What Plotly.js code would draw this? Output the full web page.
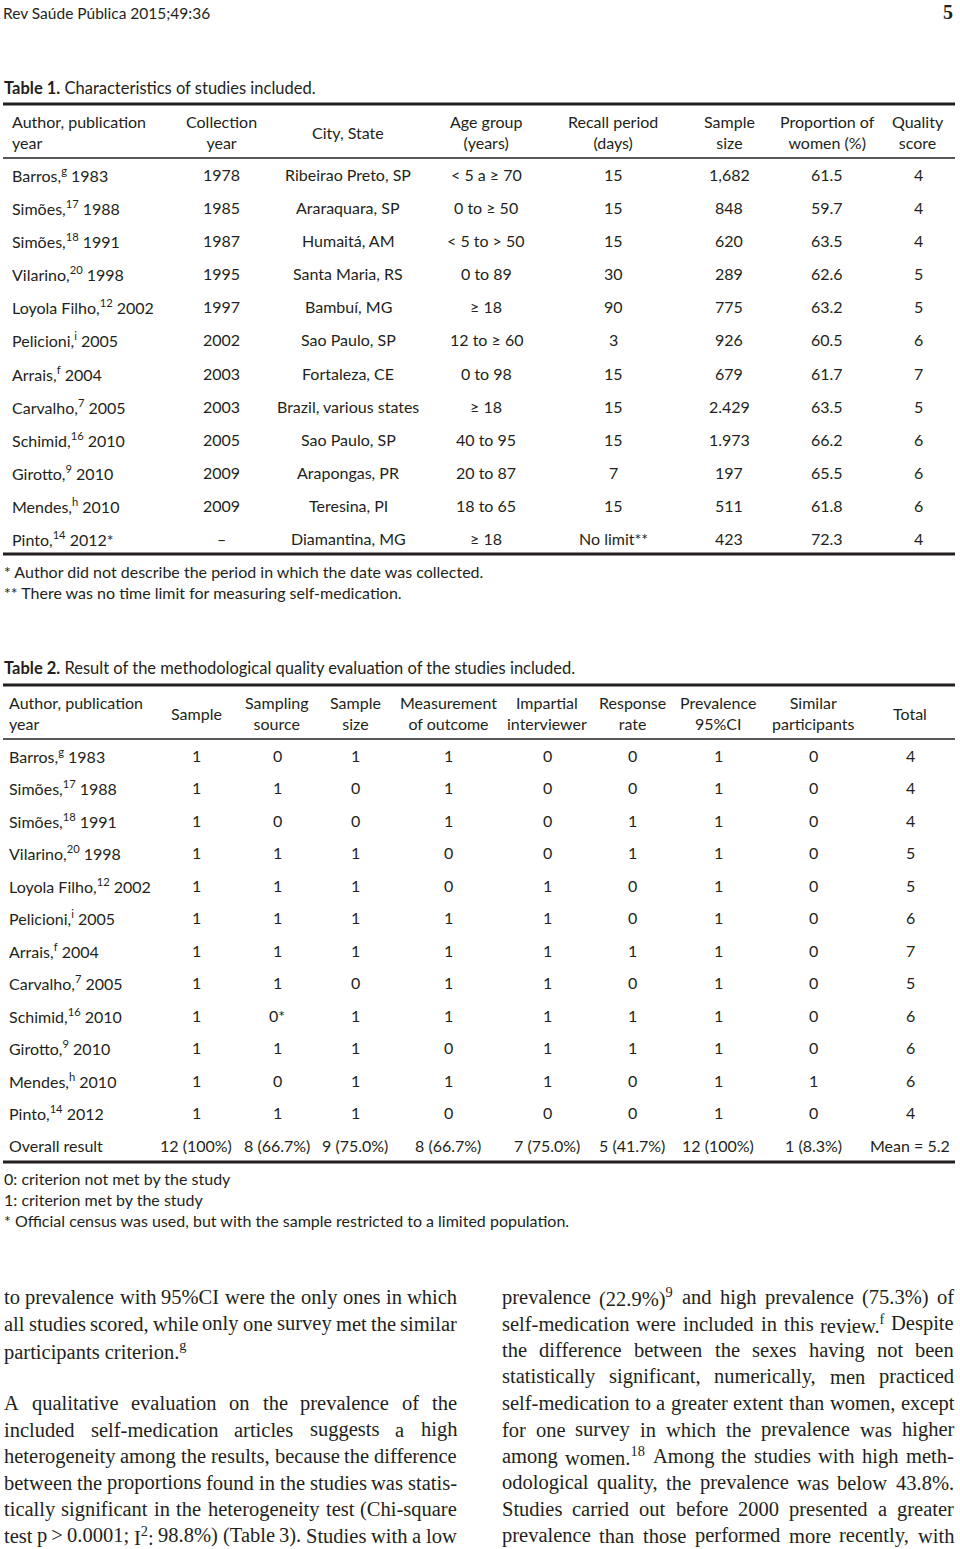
<!DOCTYPE html>
<html><head><meta charset="utf-8">
<script src="https://cdn.plot.ly/plotly-3.0.1.min.js"></script>
<style>html,body{margin:0;padding:0;background:#fff}</style>
</head><body><div id="chart" style="width:960px;height:1549px"></div>
<script>
// ---------------- DATA ----------------
const pageHeader = "Rev Saúde Pública 2015;49:36";
const pageNumber = "5";

const t1Title = "<b>Table 1.</b> Characteristics of studies included.";
const t1Headers = ["Author, publication<br>year", "Collection<br>year", "City, State", "Age group<br>(years)",
  "Recall period<br>(days)", "Sample<br>size", "Proportion of<br>women (%)", "Quality<br>score"];
const t1Author = ["Barros,<sup>g</sup> 1983", "Simões,<sup>17</sup> 1988", "Simões,<sup>18</sup> 1991",
  "Vilarino,<sup>20</sup> 1998", "Loyola Filho,<sup>12</sup> 2002", "Pelicioni,<sup>i</sup> 2005",
  "Arrais,<sup>f</sup> 2004", "Carvalho,<sup>7</sup> 2005", "Schimid,<sup>16</sup> 2010",
  "Girotto,<sup>9</sup> 2010", "Mendes,<sup>h</sup> 2010", "Pinto,<sup>14</sup> 2012*"];
const t1Collection = ["1978", "1985", "1987", "1995", "1997", "2002", "2003", "2003", "2005", "2009", "2009", "–"];
const t1City = ["Ribeirao Preto, SP", "Araraquara, SP", "Humaitá, AM", "Santa Maria, RS", "Bambuí, MG",
  "Sao Paulo, SP", "Fortaleza, CE", "Brazil, various states", "Sao Paulo, SP", "Arapongas, PR",
  "Teresina, PI", "Diamantina, MG"];
const t1Age = ["&lt; 5 a ≥ 70", "0 to ≥ 50", "&lt; 5 to &gt; 50", "0 to 89", "≥ 18", "12 to ≥ 60",
  "0 to 98", "≥ 18", "40 to 95", "20 to 87", "18 to 65", "≥ 18"];
const t1Recall = ["15", "15", "15", "30", "90", "3", "15", "15", "15", "7", "15", "No limit**"];
const t1Sample = ["1,682", "848", "620", "289", "775", "926", "679", "2.429", "1.973", "197", "511", "423"];
const t1Women = ["61.5", "59.7", "63.5", "62.6", "63.2", "60.5", "61.7", "63.5", "66.2", "65.5", "61.8", "72.3"];
const t1Quality = ["4", "4", "4", "5", "5", "6", "7", "5", "6", "6", "6", "4"];
const t1Notes = ["* Author did not describe the period in which the date was collected.",
  "** There was no time limit for measuring self-medication."];

const t2Title = "<b>Table 2.</b> Result of the methodological quality evaluation of the studies included.";
const t2Headers = ["Author, publication<br>year", "Sample", "Sampling<br>source", "Sample<br>size",
  "Measurement<br>of outcome", "Impartial<br>interviewer", "Response<br>rate", "Prevalence<br>95%CI",
  "Similar<br>participants", "Total"];
const t2Author = ["Barros,<sup>g</sup> 1983", "Simões,<sup>17</sup> 1988", "Simões,<sup>18</sup> 1991",
  "Vilarino,<sup>20</sup> 1998", "Loyola Filho,<sup>12</sup> 2002", "Pelicioni,<sup>i</sup> 2005",
  "Arrais,<sup>f</sup> 2004", "Carvalho,<sup>7</sup> 2005", "Schimid,<sup>16</sup> 2010",
  "Girotto,<sup>9</sup> 2010", "Mendes,<sup>h</sup> 2010", "Pinto,<sup>14</sup> 2012", "Overall result"];
const t2Sample     = ["1", "1", "1", "1", "1", "1", "1", "1", "1", "1", "1", "1", "12 (100%)"];
const t2Source     = ["0", "1", "0", "1", "1", "1", "1", "1", "0*", "1", "0", "1", "8 (66.7%)"];
const t2Size       = ["1", "0", "0", "1", "1", "1", "1", "0", "1", "1", "1", "1", "9 (75.0%)"];
const t2Measure    = ["1", "1", "1", "0", "0", "1", "1", "1", "1", "0", "1", "0", "8 (66.7%)"];
const t2Impartial  = ["0", "0", "0", "0", "1", "1", "1", "1", "1", "1", "1", "0", "7 (75.0%)"];
const t2Response   = ["0", "0", "1", "1", "0", "0", "1", "0", "1", "1", "0", "0", "5 (41.7%)"];
const t2Prevalence = ["1", "1", "1", "1", "1", "1", "1", "1", "1", "1", "1", "1", "12 (100%)"];
const t2Similar    = ["0", "0", "0", "0", "0", "0", "0", "0", "0", "0", "1", "0", "1 (8.3%)"];
const t2Total      = ["4", "4", "4", "5", "5", "6", "7", "5", "6", "6", "6", "4", "Mean = 5.2"];
const t2Notes = ["0: criterion not met by the study", "1: criterion met by the study",
  "* Official census was used, but with the sample restricted to a limited population."];

const bodyLeft = [
  ["to prevalence with 95%CI were the only ones in which", true],
  ["all studies scored, while only one survey met the similar", true],
  ["participants criterion.<sup>g</sup>", false],
  null,
  ["A qualitative evaluation on the prevalence of the", true],
  ["included self-medication articles suggests a high", true],
  ["heterogeneity among the results, because the difference", true],
  ["between the proportions found in the studies was statis-", true],
  ["tically significant in the heterogeneity test (Chi-square", true],
  ["test p\u2009&gt;\u20090.0001; I<sup>2</sup>: 98.8%) (Table 3). Studies with a low", true]
];
const bodyRight = [
  ["prevalence (22.9%)<sup>9</sup> and high prevalence (75.3%) of", true],
  ["self-medication were included in this review.<sup>f</sup> Despite", true],
  ["the difference between the sexes having not been", true],
  ["statistically significant, numerically, men practiced", true],
  ["self-medication to a greater extent than women, except", true],
  ["for one survey in which the prevalence was higher", true],
  ["among women.<sup>18</sup> Among the studies with high meth-", true],
  ["odological quality, the prevalence was below 43.8%.", true],
  ["Studies carried out before 2000 presented a greater", true],
  ["prevalence than those performed more recently, with", true]
];

// ---------------- LAYOUT / STYLE ----------------
const INK = '#231f20';
const SANS = 'Lato, "Open Sans", sans-serif';
const SERIF = '"Liberation Serif", "Times New Roman", serif';
const FS = 16;
const ann = [];
function txt(x, y, text, o) {
  o = o || {};
  ann.push({
    x: x, y: y, xref: 'x', yref: 'y', text: text, showarrow: false,
    xanchor: o.xanchor || 'center', yanchor: 'middle', align: o.align || 'center',
    borderpad: 0, borderwidth: 0,
    font: {family: o.family || SANS, size: o.size || FS, color: INK}
  });
}

// page header
txt(3, 13, pageHeader, {xanchor: 'left', size: 15.5});
txt(953, 12, "<b>" + pageNumber + "</b>", {xanchor: 'right', size: 20, family: SERIF});

// Table 1
txt(4, 88, t1Title, {xanchor: 'left', size: 16.5});
const t1X = [12, 221, 348, 486, 613, 729, 827, 918];
const t1Data = [t1Author, t1Collection, t1City, t1Age, t1Recall, t1Sample, t1Women, t1Quality];
t1Headers.forEach((h, j) => txt(t1X[j], 132, h, j === 0 ? {xanchor: 'left', align: 'left'} : {}));
const t1Y0 = 174, t1Step = 33.18;
t1Data.forEach((col, j) => col.forEach((v, i) =>
  txt(t1X[j], t1Y0 + i * t1Step, v, j === 0 ? {xanchor: 'left'} : {})));
t1Notes.forEach((n, i) => txt(4, 571 + i * 21, n, {xanchor: 'left'}));

// Table 2
txt(4, 668, t2Title, {xanchor: 'left', size: 16.5});
const t2X = [9, 196, 277, 355, 448, 547, 632, 718, 813, 910];
const t2Data = [t2Author, t2Sample, t2Source, t2Size, t2Measure, t2Impartial, t2Response, t2Prevalence, t2Similar, t2Total];
t2Headers.forEach((h, j) => txt(t2X[j], 713, h, j === 0 ? {xanchor: 'left', align: 'left'} : {}));
const t2Y0 = 755, t2Step = 32.5;
t2Data.forEach((col, j) => col.forEach((v, i) =>
  txt(t2X[j], t2Y0 + i * t2Step, v, j === 0 ? {xanchor: 'left'} : {})));
t2Notes.forEach((n, i) => txt(4, 1178 + i * 21, n, {xanchor: 'left'}));

// Body text (justified by word placement)
const BFS = 20.5;
const ctx = document.createElement('canvas').getContext('2d');
function plainW(s, size) {
  s = s.replace(/&gt;/g, '>').replace(/&lt;/g, '<');
  ctx.font = size + 'px "Liberation Serif"';
  return ctx.measureText(s).width;
}
function tokW(tok) {
  let total = 0, last = 0, m;
  const re = /<sup>(.*?)<\/sup>/g;
  while ((m = re.exec(tok))) {
    total += plainW(tok.slice(last, m.index), BFS) + plainW(m[1], BFS * 0.7);
    last = re.lastIndex;
  }
  return total + plainW(tok.slice(last), BFS);
}
function bodyCol(lines, x0, x1, y0, step) {
  lines.forEach((ln, i) => {
    if (!ln) return;
    const y = y0 + i * step;
    const [s, just] = ln;
    if (!just) { txt(x0, y, s, {xanchor: 'left', family: SERIF, size: BFS}); return; }
    const words = s.split(' ');
    const ws = words.map(tokW);
    const sum = ws.reduce((a, b) => a + b, 0);
    const gap = Math.max(2, (x1 - x0 - sum) / (words.length - 1));
    let x = x0;
    words.forEach((w, k) => {
      txt(x, y, w, {xanchor: 'left', family: SERIF, size: BFS});
      x += ws[k] + gap;
    });
  });
}
bodyCol(bodyLeft, 4, 457, 1297, 26.5);
bodyCol(bodyRight, 502, 954, 1297, 26.5);

// rules
function rule(y, w) {
  return {type: 'line', xref: 'x', yref: 'y', x0: 3, x1: 955, y0: y, y1: y, line: {color: INK, width: w}};
}
const shapes = [rule(104, 3), rule(158, 1.3), rule(554, 3), rule(685, 3), rule(739, 1.3), rule(1162, 3)];

const layout = {
  width: 960, height: 1549,
  margin: {l: 0, r: 0, t: 0, b: 0},
  paper_bgcolor: '#ffffff', plot_bgcolor: '#ffffff',
  xaxis: {range: [0, 960], visible: false, fixedrange: true},
  yaxis: {range: [1549, 0], visible: false, fixedrange: true},
  showlegend: false,
  annotations: ann,
  shapes: shapes
};
Plotly.newPlot('chart', [], layout, {staticPlot: true, displayModeBar: false});
</script></body></html>
